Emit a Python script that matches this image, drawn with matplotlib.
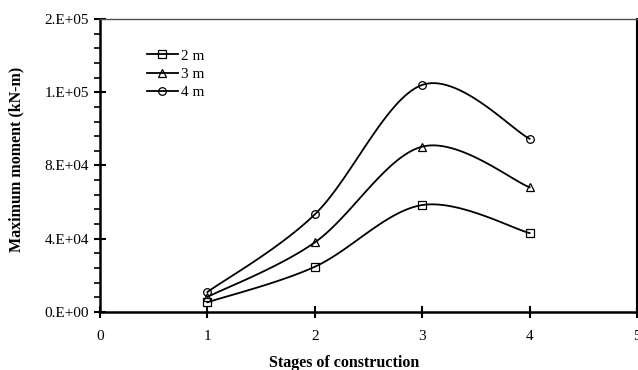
import numpy as np
import matplotlib
matplotlib.use('Agg')
import matplotlib.pyplot as plt
from matplotlib.lines import Line2D
from matplotlib.ticker import MultipleLocator, FuncFormatter

# Data
stages = [1, 2, 3, 4]
moment_2m = [5300, 24700, 58400, 43100]
moment_3m = [8200, 38000, 90300, 68100]
moment_4m = [10900, 53300, 124000, 94600]
series_labels = ['2 m', '3 m', '4 m']
series_markers = ['s', '^', 'o']

plt.rcParams['font.family'] = ['Liberation Serif', 'DejaVu Serif']


def smooth(x, y, n=40):
    # Excel-style smoothed line: cubic Bezier with Catmull-Rom like handles
    pts = np.column_stack([x, y]).astype(float)
    ext = np.vstack([pts[0], pts, pts[-1]])
    t = np.linspace(0, 1, n)[:, None]
    out = []
    for i in range(len(pts) - 1):
        p0, p3 = ext[i + 1], ext[i + 2]
        c1 = p0 + (ext[i + 2] - ext[i]) / 6
        c2 = p3 - (ext[i + 3] - ext[i + 1]) / 6
        seg = (1 - t) ** 3 * p0 + 3 * (1 - t) ** 2 * t * c1 + 3 * (1 - t) * t ** 2 * c2 + t ** 3 * p3
        out.append(seg if i == 0 else seg[1:])
    out = np.vstack(out)
    return out[:, 0], out[:, 1]


fig = plt.figure(figsize=(6.38, 3.70), dpi=100)
ax = fig.add_axes([100 / 638, 58 / 370, 537 / 638, 293 / 370])

handles = []
for vals, lab, mk in zip([moment_2m, moment_3m, moment_4m], series_labels, series_markers):
    sx, sy = smooth(stages, vals)
    ax.plot(sx, sy, color='black', lw=1.3, zorder=3)
    ax.plot(stages, vals, ls='none', marker=mk, ms=5.5, mfc='none', mec='black', mew=0.9, zorder=4)
    handles.append(Line2D([], [], color='black', lw=1.3, marker=mk, ms=5.5, mfc='none', mec='black', mew=0.9, label=lab))

ax.set_xlim(0, 5)
ax.set_ylim(0, 160000)
ax.xaxis.set_major_locator(MultipleLocator(1))
ax.yaxis.set_major_locator(MultipleLocator(40000))
ax.yaxis.set_minor_locator(MultipleLocator(8000))
ax.yaxis.set_major_formatter(FuncFormatter(lambda v, p: f"{v:.0E}".replace('E', '.E')))

for side in ['left', 'bottom']:
    ax.spines[side].set_linewidth(1.8)
ax.spines['right'].set_linewidth(1.5)
ax.spines['top'].set_linewidth(1.0)
ax.spines['top'].set_color('#505050')

ax.tick_params(axis='both', which='major', direction='inout', length=8, width=1.5, labelsize=11)
ax.tick_params(axis='x', which='major', pad=9)
ax.tick_params(axis='y', which='major', pad=4)
ax.tick_params(axis='y', which='minor', direction='out', length=4, width=1.2)

ax.set_xlabel('Stages of construction', fontsize=11.5, fontweight='bold')
ax.set_ylabel('Maximum moment (kN-m)', fontsize=11.5, fontweight='bold')
ax.xaxis.set_label_coords(0.454, -0.148)
ax.yaxis.set_label_coords(-0.14, 0.52)

ax.legend(handles=handles, loc='upper left', bbox_to_anchor=(147 / 638, 1 - 49 / 370),
          bbox_transform=fig.transFigure, frameon=False, fontsize=11,
          handlelength=2.0, handletextpad=0.25, labelspacing=0.3, borderpad=0,
          borderaxespad=0)

fig.savefig('out.png', dpi=100)
